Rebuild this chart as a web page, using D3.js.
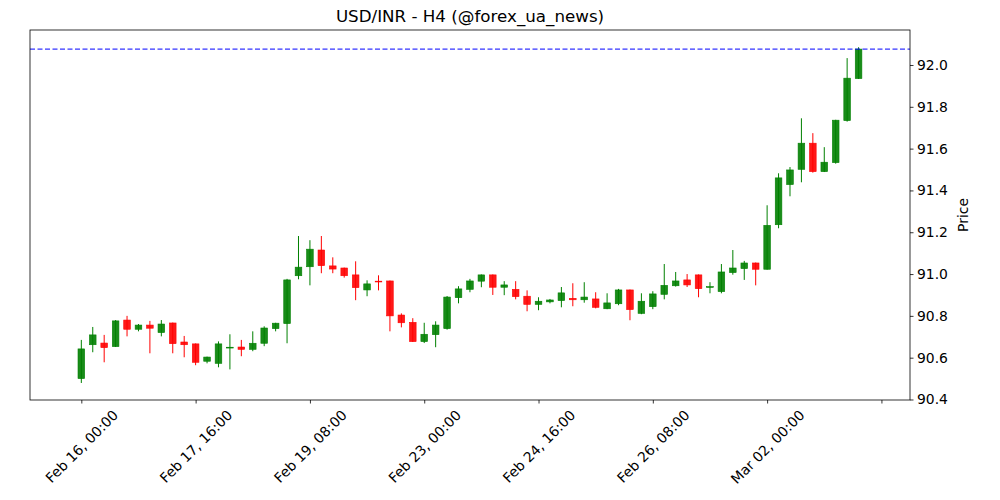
<!DOCTYPE html>
<html lang="en">
<head>
    <meta charset="UTF-8">
    <title>USD/INR - H4</title>
    <script src="https://d3js.org/d3.v7.min.js"></script>
    <style>
        body { margin: 0; background: #fff; }
        text { font-family: "DejaVu Sans", sans-serif; fill: #000; }
        .axis path, .axis line { stroke: #000; stroke-width: 0.8; }
        .axis text { font-size: 13.9px; }
    </style>
</head>
<body>
    <script>
        // H4 candles, Feb 16 00:00 .. Mar 03 08:00 (weekends skipped)
        const open = [90.500, 90.662, 90.670, 90.653, 90.780, 90.736, 90.756, 90.720, 90.766, 90.675,
            90.666, 90.583, 90.573, 90.649, 90.651, 90.640, 90.669, 90.739, 90.763, 90.992,
            91.035, 91.115, 91.039, 91.029, 90.996, 90.924, 90.966, 90.967, 90.804, 90.769,
            90.677, 90.710, 90.739, 90.887, 90.927, 90.966, 90.996, 90.937, 90.927, 90.894,
            90.855, 90.867, 90.873, 90.884, 90.877, 90.881, 90.834, 90.858, 90.924, 90.812,
            90.844, 90.903, 90.944, 90.972, 90.996, 90.938, 90.916, 91.007, 91.026, 91.053,
            91.023, 91.236, 91.428, 91.501, 91.626, 91.490, 91.533, 91.734, 91.935];
        const high = [90.685, 90.747, 90.709, 90.780, 90.800, 90.761, 90.776, 90.780, 90.768, 90.704,
            90.668, 90.605, 90.678, 90.712, 90.685, 90.726, 90.750, 90.767, 90.977, 91.182,
            91.162, 91.182, 91.080, 91.031, 91.061, 90.970, 90.994, 90.969, 90.812, 90.789,
            90.767, 90.774, 90.895, 90.942, 90.977, 90.998, 90.998, 90.966, 90.966, 90.922,
            90.889, 90.881, 90.938, 90.956, 90.961, 90.913, 90.908, 90.929, 90.926, 90.908,
            90.918, 91.048, 91.010, 91.000, 90.998, 90.961, 91.048, 91.115, 91.063, 91.055,
            91.329, 91.482, 91.512, 91.745, 91.674, 91.607, 91.738, 92.033, 92.085];
        const low = [90.479, 90.626, 90.578, 90.651, 90.702, 90.726, 90.621, 90.702, 90.621, 90.602,
            90.564, 90.573, 90.554, 90.544, 90.607, 90.631, 90.655, 90.726, 90.669, 90.975,
            90.946, 91.004, 91.004, 90.983, 90.875, 90.894, 90.922, 90.726, 90.745, 90.675,
            90.670, 90.650, 90.734, 90.860, 90.913, 90.937, 90.900, 90.899, 90.879, 90.822,
            90.827, 90.860, 90.841, 90.846, 90.863, 90.836, 90.832, 90.851, 90.779, 90.808,
            90.832, 90.879, 90.940, 90.938, 90.889, 90.908, 90.908, 90.997, 90.972, 90.946,
            91.021, 91.219, 91.372, 91.439, 91.485, 91.488, 91.528, 91.729, 91.933];
        const close = [90.642, 90.709, 90.648, 90.776, 90.736, 90.756, 90.741, 90.761, 90.667, 90.662,
            90.578, 90.603, 90.666, 90.650, 90.640, 90.669, 90.742, 90.765, 90.972, 91.033,
            91.119, 91.040, 91.024, 90.992, 90.935, 90.953, 90.964, 90.800, 90.767, 90.677,
            90.712, 90.756, 90.890, 90.929, 90.967, 90.996, 90.937, 90.948, 90.892, 90.855,
            90.870, 90.876, 90.910, 90.877, 90.890, 90.841, 90.862, 90.924, 90.830, 90.870,
            90.905, 90.946, 90.967, 90.948, 90.930, 90.940, 91.010, 91.029, 91.053, 91.023,
            91.233, 91.460, 91.498, 91.626, 91.490, 91.535, 91.736, 91.937, 92.076];

        const xTickIdx = [0, 10, 20, 30, 40, 50, 60, 70];
        const xTickLabels = ["Feb 16, 00:00", "Feb 17, 16:00", "Feb 19, 08:00", "Feb 23, 00:00",
            "Feb 24, 16:00", "Feb 26, 08:00", "Mar 02, 00:00", ""];
        const yTicks = [90.4, 90.6, 90.8, 91.0, 91.2, 91.4, 91.6, 91.8, 92.0];
        const lastPrice = close[close.length - 1];

        const width = 1000, height = 500;
        const plotL = 30, plotR = 910, plotT = 30, plotB = 400;

        const svg = d3.select("body").append("svg")
            .attr("width", width)
            .attr("height", height);

        const x = d3.scaleLinear().domain([-4.49, 72.5]).range([plotL, plotR]);
        const y = d3.scaleLinear().domain([90.3976, 92.1674]).range([plotB, plotT]);
        const step = x(1) - x(0);

        const candles = open.map((o, i) => ({ i, o, h: high[i], l: low[i], c: close[i] }));
        const colour = d => d.c >= d.o ? "green" : "red";

        // wicks
        svg.append("g").selectAll("line")
            .data(candles)
            .join("line")
            .attr("x1", d => x(d.i)).attr("x2", d => x(d.i))
            .attr("y1", d => y(d.h)).attr("y2", d => y(d.l))
            .attr("stroke", colour)
            .attr("stroke-width", 1);

        // bodies
        svg.append("g").selectAll("rect")
            .data(candles)
            .join("rect")
            .attr("x", d => x(d.i) - step * 0.29)
            .attr("width", step * 0.58)
            .attr("y", d => y(Math.max(d.o, d.c)))
            .attr("height", d => Math.max(0.8, Math.abs(y(d.o) - y(d.c))))
            .attr("fill", colour)
            .attr("fill-opacity", 0.9)
            .attr("stroke", colour)
            .attr("stroke-width", 0.6);

        // last price line
        svg.append("line")
            .attr("x1", plotL).attr("x2", plotR)
            .attr("y1", y(lastPrice)).attr("y2", y(lastPrice))
            .attr("stroke", "blue")
            .attr("stroke-width", 1)
            .attr("stroke-dasharray", "5,2.5");

        // frame
        svg.append("rect")
            .attr("x", plotL).attr("y", plotT)
            .attr("width", plotR - plotL).attr("height", plotB - plotT)
            .attr("fill", "none")
            .attr("stroke", "#000")
            .attr("stroke-width", 0.8);

        // x axis
        const xAxis = svg.append("g")
            .attr("class", "axis")
            .attr("transform", `translate(0,${plotB})`)
            .call(d3.axisBottom(x)
                .tickValues(xTickIdx)
                .tickSize(3.5)
                .tickFormat((d, k) => xTickLabels[k]));
        xAxis.select(".domain").remove();
        xAxis.selectAll("text").each(function() {
            const w = this.getComputedTextLength();
            const cy = 7 + (w + 16) * Math.SQRT1_2 / 2;
            d3.select(this)
                .attr("x", 0).attr("y", cy).attr("dy", "0.35em")
                .attr("text-anchor", "middle")
                .attr("transform", `rotate(-45,0,${cy})`);
        });

        // y axis on right
        const yAxis = svg.append("g")
            .attr("class", "axis")
            .attr("transform", `translate(${plotR},0)`)
            .call(d3.axisRight(y)
                .tickValues(yTicks)
                .tickSize(3.5)
                .tickPadding(3.5)
                .tickFormat(d3.format(".1f")));
        yAxis.select(".domain").remove();

        svg.append("text")
            .attr("transform", `translate(963,${(plotT + plotB) / 2}) rotate(-90)`)
            .attr("text-anchor", "middle")
            .attr("dy", "0.35em")
            .style("font-size", "13.9px")
            .text("Price");

        svg.append("text")
            .attr("x", (plotL + plotR) / 2)
            .attr("y", 21.7)
            .attr("text-anchor", "middle")
            .style("font-size", "16.7px")
            .text("USD/INR - H4 (@forex_ua_news)");
    </script>
</body>
</html>
